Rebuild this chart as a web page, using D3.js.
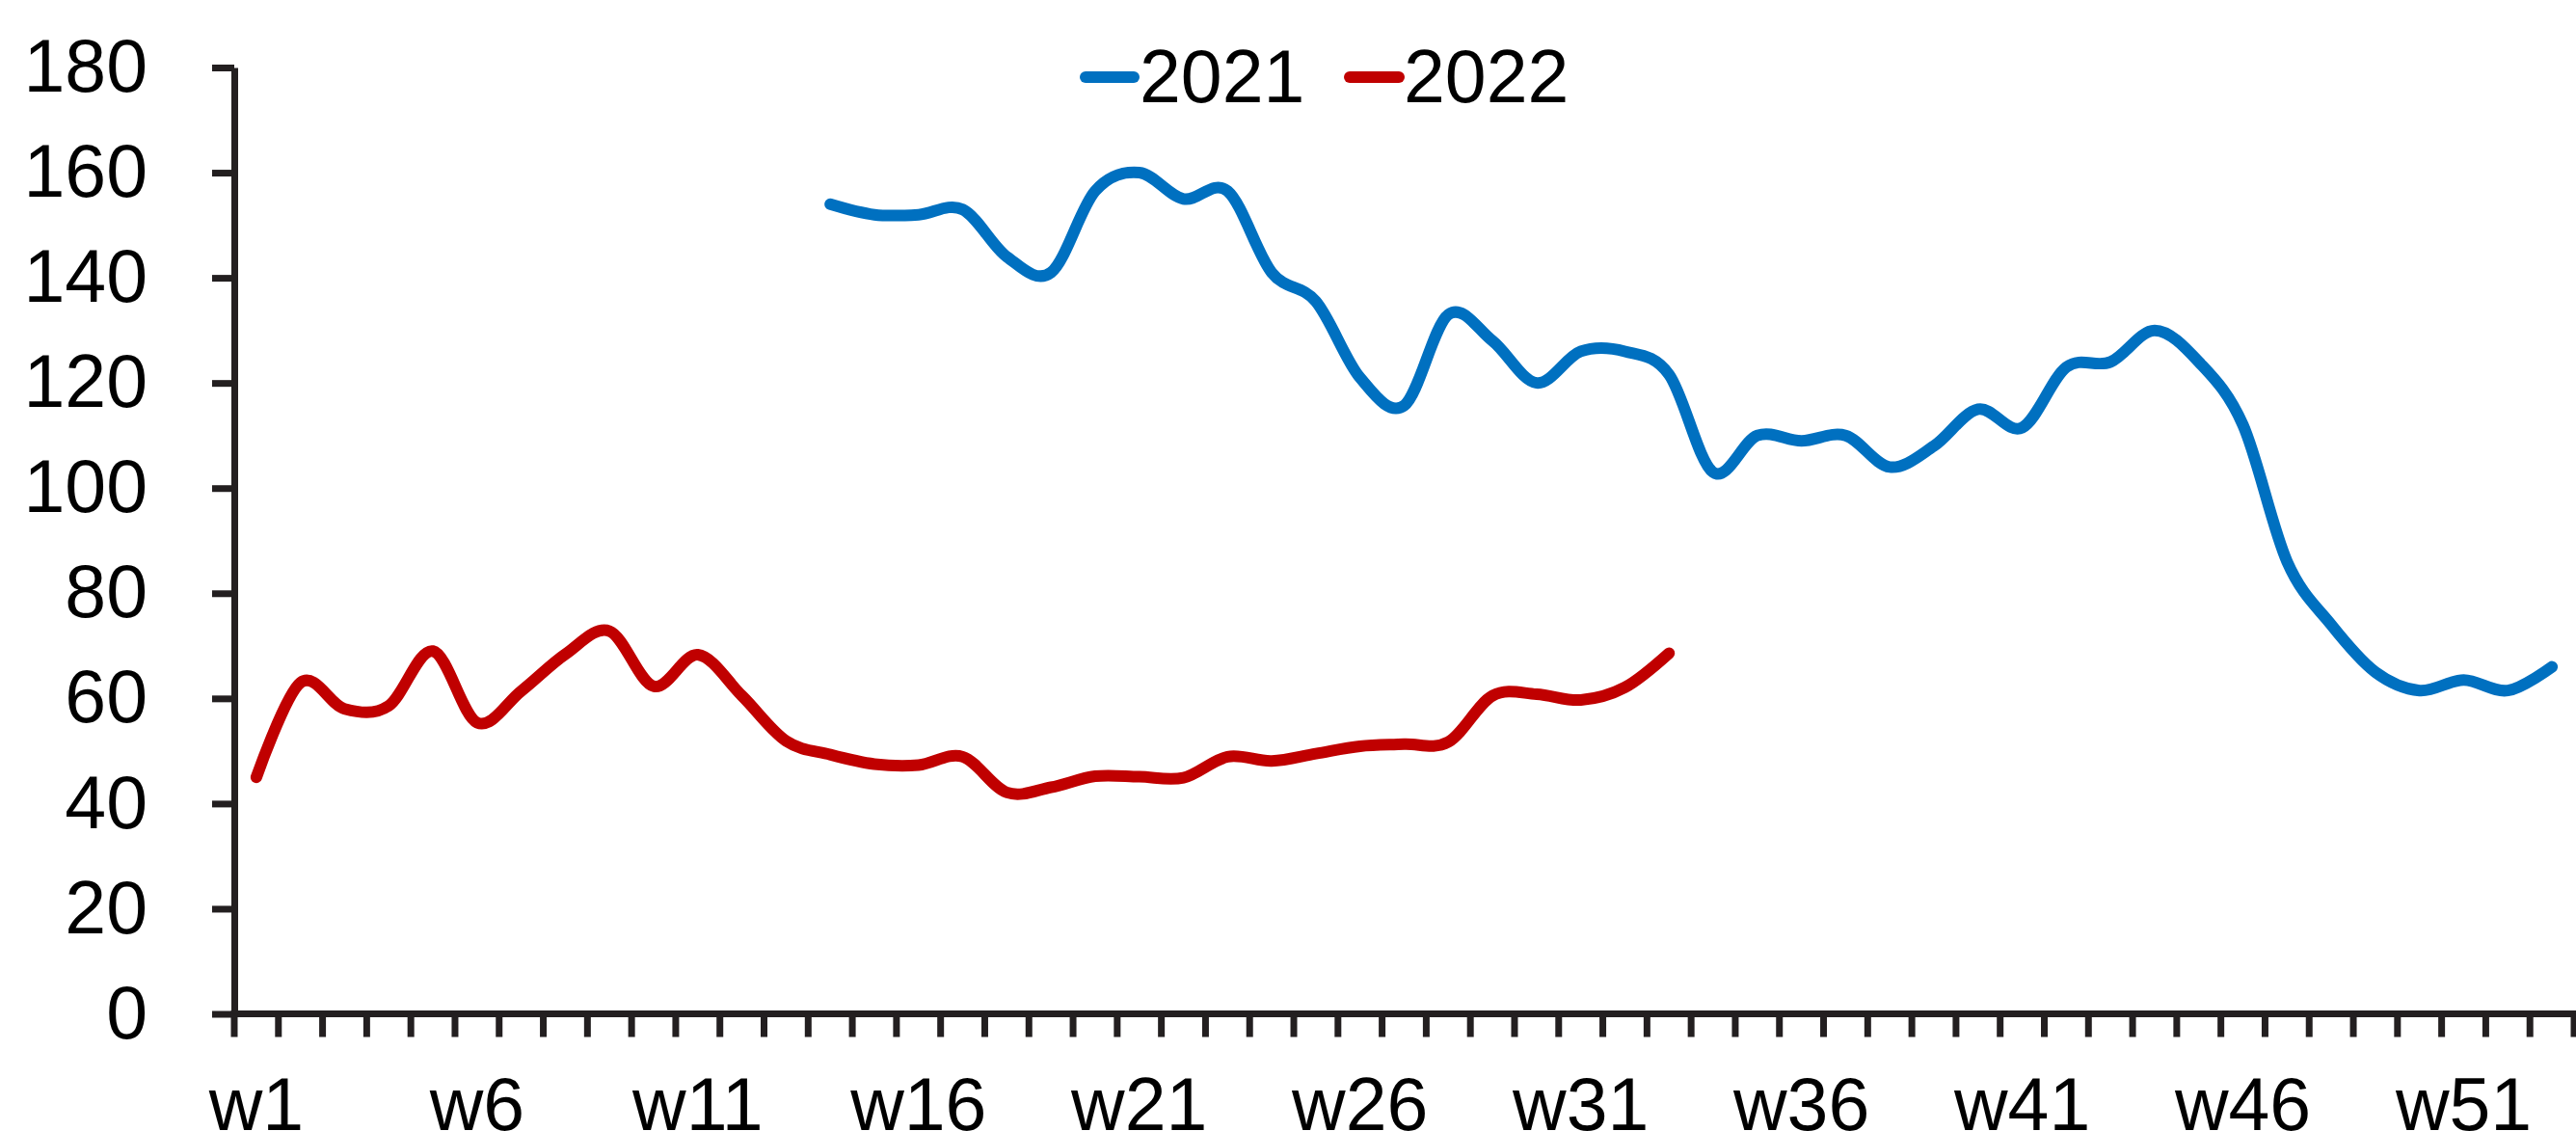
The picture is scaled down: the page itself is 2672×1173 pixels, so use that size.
<!DOCTYPE html>
<html>
<head>
<meta charset="utf-8">
<script src="https://cdn.jsdelivr.net/npm/d3@7"></script>
<style>
  html, body { margin: 0; padding: 0; background: #fff; }
  svg { display: block; }
  text { font-family: "Liberation Sans", Arial, sans-serif; fill: #000; }
</style>
</head>
<body>
<svg id="chart" width="2672" height="1173"></svg>
<script>
// ---- data ----
const weeks = d3.range(1, 54).map(i => "w" + i);
const seriesNames = ["2021", "2022"];
const seriesColors = ["#0070C0", "#C00000"];
// 2021: no data w1..w13
const values2021 = [
  null, null, null, null, null, null, null, null, null, null, null, null, null,
  154, 152, 152, 153, 144, 141, 156.5, 160, 155, 156.5,
  141, 135.5, 121, 115.7, 133, 128, 120, 126, 126, 121.6,
  103, 110, 109, 110, 104, 108, 115, 111.5, 123, 124,
  130, 124, 112, 86, 74, 65, 61.5, 63.5, 61.5, 66
];
// 2022: w1..w33
const values2022 = [
  45, 63, 58, 58.6, 69, 55.4, 61.4, 68.4, 72.8, 62.3,
  68.3, 60.5, 51.9, 49.3, 47.5, 47.3, 48.9, 42.1, 43.1, 45.2,
  45.1, 44.9, 48.9, 48.1, 49.5, 50.9, 51.3, 51.7, 60.5, 60.8,
  59.7, 62.1, 68.6
];
const yTicks = [0, 20, 40, 60, 80, 100, 120, 140, 160, 180];
const xLabelEvery = 5;

// ---- layout ----
const svg = d3.select("#chart");
const axisColor = "#231F20";
const fontSize = 77;

const x = d3.scaleBand().domain(weeks).range([243, 2670]).padding(0);
const y = d3.scaleLinear().domain([0, 180]).range([1051.5, 70]);

// y axis
const yAxis = d3.axisLeft(y).tickValues(yTicks).tickSize(23).tickSizeOuter(0).tickPadding(67);
const gy = svg.append("g").attr("transform", "translate(243,0)").call(yAxis);
gy.select(".domain").attr("stroke", axisColor).attr("stroke-width", 7);
gy.selectAll(".tick line").attr("stroke", axisColor).attr("stroke-width", 7);
gy.selectAll(".tick text").attr("font-size", fontSize)
  .attr("font-family", '"Liberation Sans", Arial, sans-serif').attr("fill", "#000");

// x axis (ticks at band boundaries)
const gx = svg.append("g");
gx.append("line")
  .attr("x1", 239.5).attr("x2", 2672)
  .attr("y1", y(0)).attr("y2", y(0))
  .attr("stroke", axisColor).attr("stroke-width", 7);
const boundaries = weeks.map(w => x(w)).concat([x.range()[1]]);
gx.selectAll("line.xt").data(boundaries).enter().append("line")
  .attr("class", "xt")
  .attr("x1", d => d).attr("x2", d => d)
  .attr("y1", y(0)).attr("y2", y(0) + 24)
  .attr("stroke", axisColor).attr("stroke-width", 7);
gx.selectAll("text.xl").data(weeks.filter((w, i) => i % xLabelEvery === 0)).enter().append("text")
  .attr("class", "xl")
  .attr("x", d => x(d) + x.bandwidth() / 2)
  .attr("y", 1172)
  .attr("text-anchor", "middle")
  .attr("font-size", fontSize)
  .text(d => d);

// lines
const line = d3.line()
  .defined(d => d.v !== null)
  .x(d => x(d.w) + x.bandwidth() / 2)
  .y(d => y(d.v))
  .curve(d3.curveCardinal.tension(0));

const allSeries = [values2021, values2022];
allSeries.forEach((vals, si) => {
  const data = vals.map((v, i) => ({ w: weeks[i], v: v }));
  svg.append("path")
    .datum(data)
    .attr("fill", "none")
    .attr("stroke", seriesColors[si])
    .attr("stroke-width", 12)
    .attr("stroke-linecap", "round")
    .attr("stroke-linejoin", "round")
    .attr("d", line);
});

// legend
const legendItems = [
  { x1: 1126, x2: 1176, tx: 1182 },
  { x1: 1400, x2: 1451, tx: 1456 }
];
const lg = svg.append("g");
seriesNames.forEach((name, i) => {
  const it = legendItems[i];
  lg.append("line")
    .attr("x1", it.x1).attr("x2", it.x2)
    .attr("y1", 80).attr("y2", 80)
    .attr("stroke", seriesColors[i])
    .attr("stroke-width", 12)
    .attr("stroke-linecap", "round");
  lg.append("text")
    .attr("x", it.tx).attr("y", 106)
    .attr("font-size", fontSize)
    .text(name);
});
</script>
</body>
</html>
